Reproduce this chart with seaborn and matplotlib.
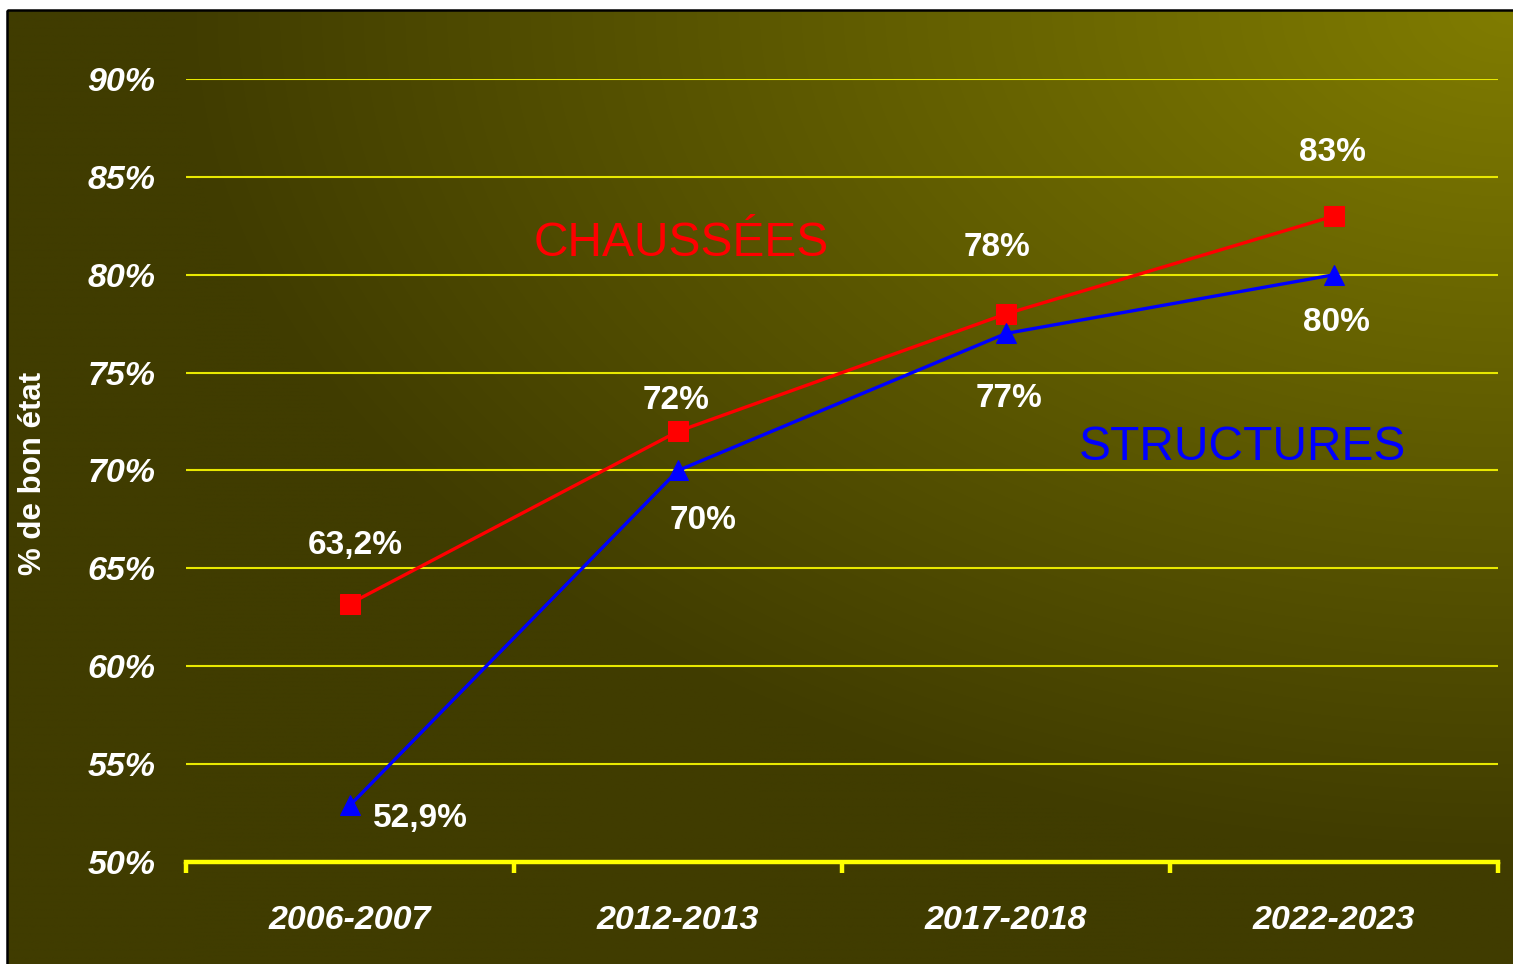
import numpy as np
import pandas as pd
import matplotlib
matplotlib.use("Agg")
import matplotlib.pyplot as plt
from matplotlib.patches import Rectangle
from matplotlib.ticker import FixedLocator, FuncFormatter
import seaborn as sns

# ---- data ----
periods = ["2006-2007", "2012-2013", "2017-2018", "2022-2023"]
chaussees = [63.2, 72, 78, 83]
structures = [52.9, 70, 77, 80]
chaussees_labels = ["63,2%", "72%", "78%", "83%"]
structures_labels = ["52,9%", "70%", "77%", "80%"]
y_ticks = [50, 55, 60, 65, 70, 75, 80, 85, 90]

sns.set_theme(style="white")
plt.rcParams['font.family'] = ['Liberation Sans', 'DejaVu Sans']

W, H = 1513, 964
fig = plt.figure(figsize=(W / 100, H / 100), dpi=100)
fig.patch.set_facecolor("white")

# background gradient (radial from top-right corner)
bg = fig.add_axes([0, 0, 1, 1], zorder=-10)
bg.set_xlim(0, W)
bg.set_ylim(H, 0)
bg.axis("off")
x0, y0 = 7, 10
xs = np.linspace(0, 1, 400)
ys = np.linspace(0, 1, 300)
X, Y = np.meshgrid(xs, ys)
r = np.sqrt((1 - X) ** 2 + Y ** 2)
v = np.clip(128 - 72 * r, 64, 128) / 255.0
img = np.dstack([v, np.clip(v - 4 / 255, 0, 1), np.zeros_like(v)])
bg.imshow(img, extent=[x0, W, H, y0], aspect="auto", interpolation="bilinear")
bg.add_patch(Rectangle((x0, y0), W - x0 + 5, H - y0 + 5, fill=False,
                       edgecolor="black", linewidth=1.8))

# main axes
ax = fig.add_axes([186 / W, 1 - 862 / H, (1498 - 186) / W, (862 - 79) / H])
ax.set_facecolor("none")

df = pd.DataFrame({
    "period": periods * 2,
    "value": chaussees + structures,
    "serie": ["CHAUSSÉES"] * 4 + ["STRUCTURES"] * 4,
})

sns.lineplot(data=df[df.serie == "CHAUSSÉES"], x="period", y="value", ax=ax,
             color="#ff0000", linewidth=2.4, marker="s", markersize=14,
             markeredgecolor="#ff0000", sort=False, zorder=5)
sns.lineplot(data=df[df.serie == "STRUCTURES"], x="period", y="value", ax=ax,
             color="#0000ff", linewidth=2.4, marker="^", markersize=15,
             markeredgecolor="#0000ff", sort=False, zorder=5)

ax.set_xlim(-0.5, 3.5)
ax.set_ylim(50, 90)
ax.set_xlabel("")
ax.set_ylabel("")

for s in ["top", "right", "left"]:
    ax.spines[s].set_visible(False)
ax.spines["bottom"].set_color("#ffff00")
ax.spines["bottom"].set_linewidth(3.2)
ax.spines["bottom"].set_zorder(6)

ax.yaxis.set_major_locator(FixedLocator(y_ticks))
ax.yaxis.set_major_formatter(FuncFormatter(lambda val, p: f"{int(val)}%"))
ax.tick_params(axis="y", length=0, pad=22, labelcolor="white", labelsize=24.5)
for t in ax.get_yticklabels():
    t.set_fontweight("bold")
    t.set_fontstyle("italic")

ax.set_xticks(range(len(periods)))
ax.set_xticklabels(periods)
ax.tick_params(axis="x", which="major", length=0, pad=31, labelcolor="white", labelsize=24.5)
for t in ax.get_xticklabels():
    t.set_fontweight("bold")
    t.set_fontstyle("italic")
ax.set_xticks(np.arange(-0.5, 3.6, 1.0), minor=True)
ax.tick_params(axis="x", which="minor", bottom=True, direction="out", length=8,
               width=3.2, color="#ffff00")

# gridlines
for yv in y_ticks[1:]:
    ax.axhline(yv, color="#e8e800", linewidth=1.5, zorder=1)

# data labels
c_off = [(5, 58), (-2, 31), (-9, 66), (-2, 64)]
s_off = [(70, -13), (25, -50), (3, -65), (2, -48)]
for i, (val, lab) in enumerate(zip(chaussees, chaussees_labels)):
    ax.annotate(lab, (i, val), xytext=c_off[i], textcoords="offset pixels",
                ha="center", va="center", color="white", fontsize=24,
                fontweight="bold", zorder=7)
for i, (val, lab) in enumerate(zip(structures, structures_labels)):
    ax.annotate(lab, (i, val), xytext=s_off[i], textcoords="offset pixels",
                ha="center", va="center", color="white", fontsize=24,
                fontweight="bold", zorder=7)

ax.text(1.01, 81.6, "CHAUSSÉES", color="#ff0000", fontsize=34.5, ha="center",
        va="center")
ax.text(2.72, 71.2, "STRUCTURES", color="#0000ff", fontsize=34.5, ha="center",
        va="center")

fig.text(33 / W, 1 - 473 / H, "% de bon état", rotation=90, color="white",
         fontsize=22.5, fontweight="bold", ha="center", va="center")

fig.savefig("out.png", dpi=100)
